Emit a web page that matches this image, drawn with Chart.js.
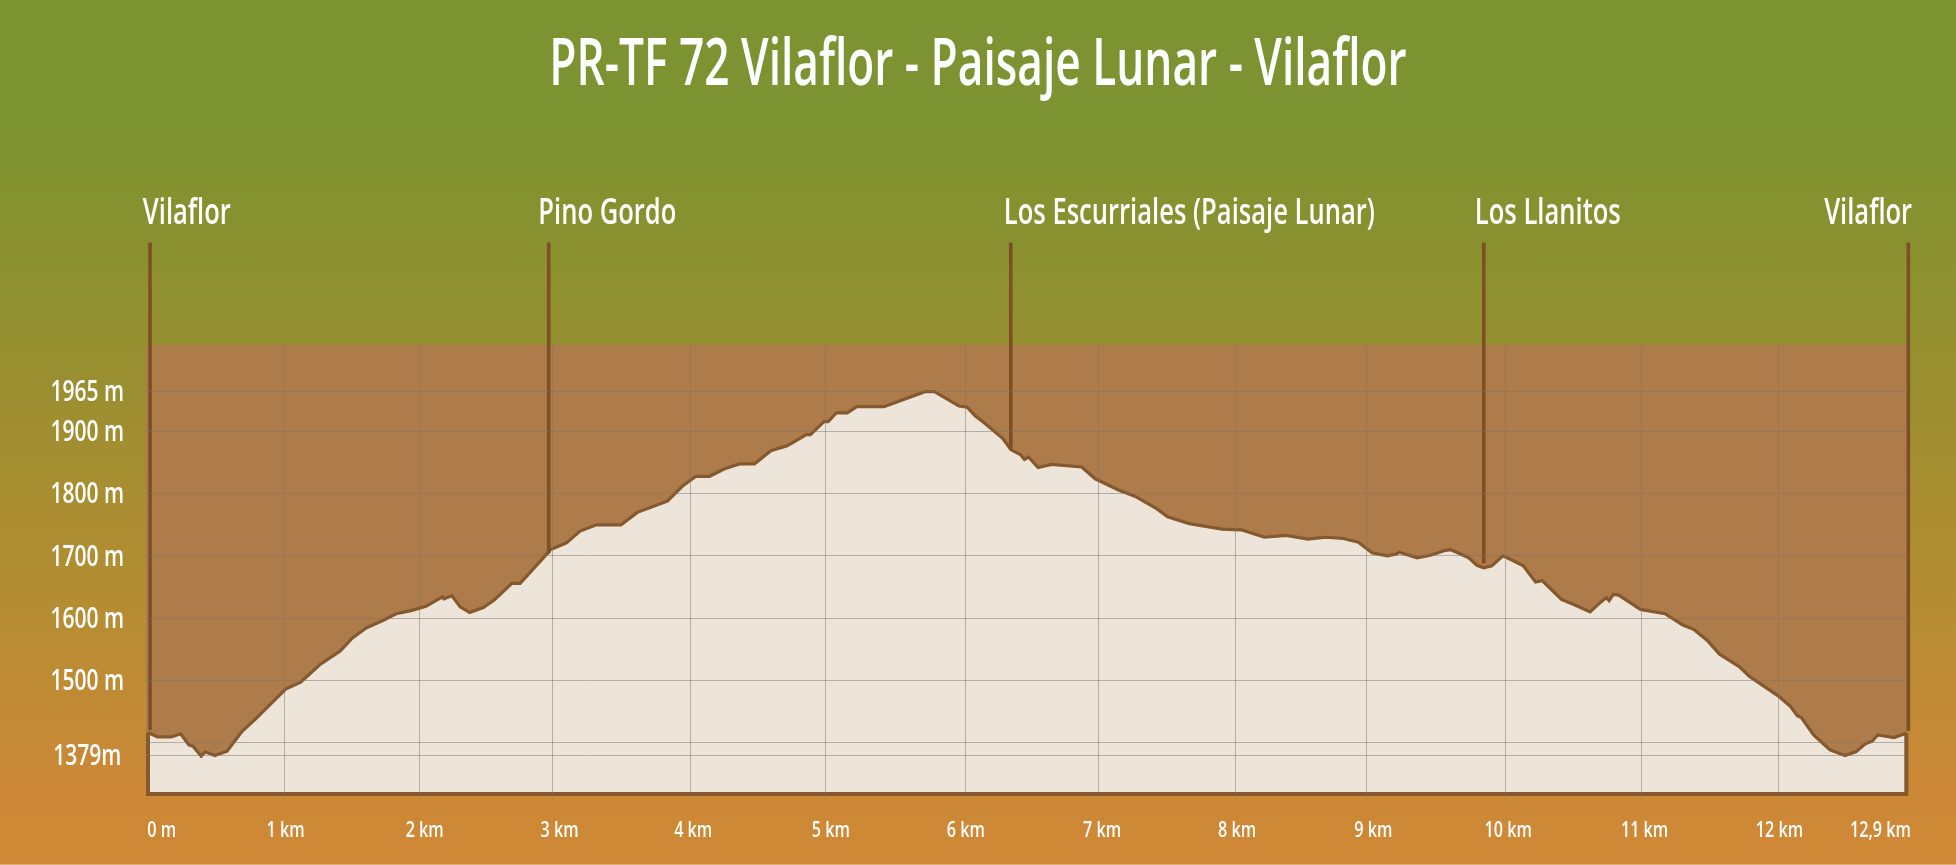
<!DOCTYPE html>
<html lang="es">
<head>
<meta charset="utf-8">
<title>PR-TF 72 Vilaflor - Paisaje Lunar - Vilaflor</title>
<script src="https://cdn.jsdelivr.net/npm/chart.js@4"></script>
<style>
html,body{margin:0;padding:0;width:1956px;height:865px;overflow:hidden;
background:linear-gradient(180deg,#7c9332 0px,#7e9332 120px,#83922f 190px,#958f30 345px,#a98e31 500px,#bb8c33 650px,#cc8836 790px,#cf8836 863.5px,#dfb074 864px,#dfb074 865px);}
canvas{display:block}
</style>
</head>
<body>
<canvas id="c" width="1956" height="865"></canvas>
<script>
const chartTitle = "PR-TF 72 Vilaflor - Paisaje Lunar - Vilaflor";

const distanceKm = [0,0.07,0.17,0.24,0.30,0.33,0.39,0.42,0.49,0.58,0.69,0.79,1.01,1.12,1.26,1.41,1.50,1.60,1.73,1.82,1.93,2.04,2.16,2.17,2.23,2.29,2.36,2.46,2.54,2.67,2.73,2.93,2.95,3.07,3.17,3.29,3.47,3.59,3.81,3.92,4.02,4.12,4.23,4.34,4.45,4.57,4.69,4.83,4.86,4.96,4.99,5.05,5.13,5.20,5.40,5.70,5.77,5.95,6.01,6.07,6.13,6.27,6.33,6.40,6.43,6.46,6.53,6.63,6.85,6.95,7.12,7.24,7.40,7.48,7.64,7.88,8.02,8.19,8.35,8.51,8.64,8.77,8.88,8.98,9.09,9.16,9.18,9.31,9.41,9.52,9.56,9.69,9.75,9.80,9.86,9.94,10.01,10.09,10.18,10.23,10.37,10.49,10.58,10.66,10.70,10.72,10.75,10.79,10.95,11.13,11.26,11.34,11.44,11.53,11.68,11.75,11.96,12.05,12.10,12.13,12.22,12.34,12.45,12.53,12.60,12.65,12.69,12.81,12.90];
const elevationM = [1416,1409,1409,1414,1396,1394,1378,1385,1379,1386,1418,1438,1486,1497,1525,1547,1568,1584,1597,1607,1612,1619,1634,1631,1636,1618,1609,1617,1629,1656,1656,1704,1710,1721,1740,1750,1750,1770,1788,1812,1828,1828,1840,1848,1848,1869,1877,1895,1895,1916,1916,1930,1930,1940,1940,1964,1964,1941,1939,1925,1915,1889,1871,1863,1855,1859,1842,1847,1843,1824,1806,1796,1776,1763,1752,1743,1742,1730,1733,1727,1730,1728,1722,1705,1700,1703,1706,1697,1701,1709,1710,1697,1685,1681,1684,1700,1693,1684,1658,1660,1630,1619,1610,1626,1633,1628,1638,1637,1614,1607,1589,1582,1564,1542,1521,1506,1475,1458,1443,1440,1412,1388,1379,1385,1398,1402,1412,1408,1415];

const elevationTicks = [1965,1900,1800,1700,1600,1500,1400,1379];
const elevationLabels = ["1965 m","1900 m","1800 m","1700 m","1600 m","1500 m","","1379m"];

const kmGridLines = [1.005,1.993,2.971,3.978,4.970,5.998,6.974,7.981,8.940,9.956,10.957,11.963];
const kmLabelPlaces = [0.10,1.01,2.03,3.02,4.00,5.01,6.00,7.00,7.99,8.99,9.98,10.98,11.97,12.71];
const kmLabels = ["0 m","1 km","2 km","3 km","4 km","5 km","6 km","7 km","8 km","9 km","10 km","11 km","12 km","12,9 km"];

const waypointNames = ["Vilaflor","Pino Gordo","Los Escurriales (Paisaje Lunar)","Los Llanitos","Vilaflor"];
const waypointKm = [0.015,2.94,6.33,9.80,12.915];
const waypointGroundM = [1420,1704,1871,1688,1419];
const waypointTopM = 2204;
const waypointLabelKm = [0.285,3.37,7.64,10.27,12.62];

const frameKm = [0,0,12.9,12.9];
const frameM = [1416,1317.2,1317.2,1415];

const FONT = '"Open Sans","Noto Sans",sans-serif';
const AXIS_MIN_M = 1317.2, AXIS_MAX_M = 2039.1, KM_MAX = 12.9;
const BROWN = '#85592d', LINE = '#7d4f25', GRID = 'rgba(125,115,105,0.5)';

// no condensed face is installed, so each label is squeezed horizontally, by font size
const TITLE_SIZE = 66, WAYPOINT_SIZE = 36, ELEVATION_SIZE = 29, KM_SIZE = 21;
const TEXT_FIT = {66:{sx:0.67,dy:0},36:{sx:0.71,dy:0},29:{sx:0.725,dy:1.5},21:{sx:0.77,dy:0}};
const condensePlugin = {
  id:'condense',
  beforeDraw(chart){
    const ctx = chart.ctx;
    if (ctx.__condensed) return;
    const fill = ctx.fillText.bind(ctx);
    ctx.fillText = (t,x,y)=>{
      const m = /(\d+)px/.exec(ctx.font);
      const fit = TEXT_FIT[m ? m[1] : 0] || {sx:1,dy:0};
      ctx.save();ctx.translate(x,y+fit.dy);ctx.scale(fit.sx,1);fill(t,0,0);ctx.restore();
    };
    ctx.__condensed = true;
  }
};
const bandPlugin = {
  id:'band',
  beforeDatasetsDraw(chart){
    const {ctx,chartArea:a} = chart;
    ctx.save();
    ctx.fillStyle = '#ad7c4a';
    ctx.fillRect(a.left-2, a.top, a.right-a.left+4, a.bottom-a.top);
    ctx.restore();
  }
};

const noSidePadding = s=>{s.paddingLeft=0;s.paddingRight=0;s.paddingTop=0;s.paddingBottom=0;};
const xBase = pos=>({type:'linear',position:pos,axis:'x',min:0,max:KM_MAX,offset:false});

const waypointSets = waypointKm.map((km,i)=>({
  type:'line',label:waypointNames[i],xAxisID:'x',yAxisID:'y',
  data:[{x:km,y:waypointTopM},{x:km,y:waypointGroundM[i]}],
  borderColor:LINE,borderWidth:3.6,pointRadius:0,fill:false,clip:false,order:1,borderCapStyle:'butt'
}));

new Chart(document.getElementById('c'),{
  type:'line',
  data:{datasets:[
    {label:'Perfil',xAxisID:'x',yAxisID:'y',
     data:distanceKm.map((x,i)=>({x,y:elevationM[i]})),
     borderColor:BROWN,borderWidth:3.2,backgroundColor:'#eee5da',fill:'origin',pointRadius:0,tension:0,clip:false,order:3},
    {label:'Marco',xAxisID:'x',yAxisID:'y',
     data:frameKm.map((x,i)=>({x,y:frameM[i]})),
     borderColor:BROWN,borderWidth:4,pointRadius:0,fill:false,clip:false,order:2},
    ...waypointSets
  ]},
  plugins:[condensePlugin,bandPlugin],
  options:{
    responsive:false,animation:false,events:[],devicePixelRatio:1,
    layout:{padding:0},
    plugins:{
      legend:{display:false},tooltip:{enabled:false},
      title:{display:true,text:chartTitle,color:'#ffffff',fullSize:true,
        font:{family:FONT,size:TITLE_SIZE,weight:'600',lineHeight:1.2},padding:{top:27,bottom:0}}
    },
    scales:{
      x:{...xBase('bottom'),
        afterBuildTicks(s){s.ticks=kmGridLines.map(value=>({value}));},
        afterFit(s){s.height=0;noSidePadding(s);},
        ticks:{display:false,autoSkip:false},
        grid:{color:GRID,lineWidth:1,z:1,drawTicks:true,tickLength:4},
        border:{display:false}},
      xLabels:{...xBase('bottom'),
        afterBuildTicks(s){s.ticks=kmLabelPlaces.map(value=>({value}));},
        afterFit(s){s.height=71;noSidePadding(s);},
        ticks:{autoSkip:false,maxRotation:0,minRotation:0,color:'#ffffff',padding:24,
          font:{family:FONT,size:KM_SIZE,weight:'600'},
          callback:(v,i)=>kmLabels[i]},
        grid:{display:false,drawTicks:false},border:{display:false}},
      xWaypoints:{...xBase('top'),
        afterBuildTicks(s){s.ticks=waypointLabelKm.map(value=>({value}));},
        afterFit(s){s.height=238.8;noSidePadding(s);},
        ticks:{autoSkip:false,maxRotation:0,minRotation:0,color:'#ffffff',padding:110,
          font:{family:FONT,size:WAYPOINT_SIZE,weight:'600'},
          callback:(v,i)=>waypointNames[i]},
        grid:{display:false,drawTicks:false},border:{display:false}},
      y:{type:'linear',position:'left',min:AXIS_MIN_M,max:AXIS_MAX_M,
        afterBuildTicks(s){s.ticks=elevationTicks.map(value=>({value}));},
        afterFit(s){s.width=148;noSidePadding(s);},
        ticks:{autoSkip:false,color:'#ffffff',crossAlign:'center',padding:8,
          font:{family:FONT,size:ELEVATION_SIZE,weight:'600'},
          callback:(v,i)=>elevationLabels[i]},
        grid:{color:GRID,lineWidth:1,z:1,drawTicks:true,tickLength:2},
        border:{display:false}},
      yMargin:{type:'linear',position:'right',axis:'y',min:0,max:1,
        afterFit(s){s.width=49.7;noSidePadding(s);},
        ticks:{display:false},grid:{display:false,drawTicks:false},border:{display:false}}
    }
  }
});
</script>
</body>
</html>
